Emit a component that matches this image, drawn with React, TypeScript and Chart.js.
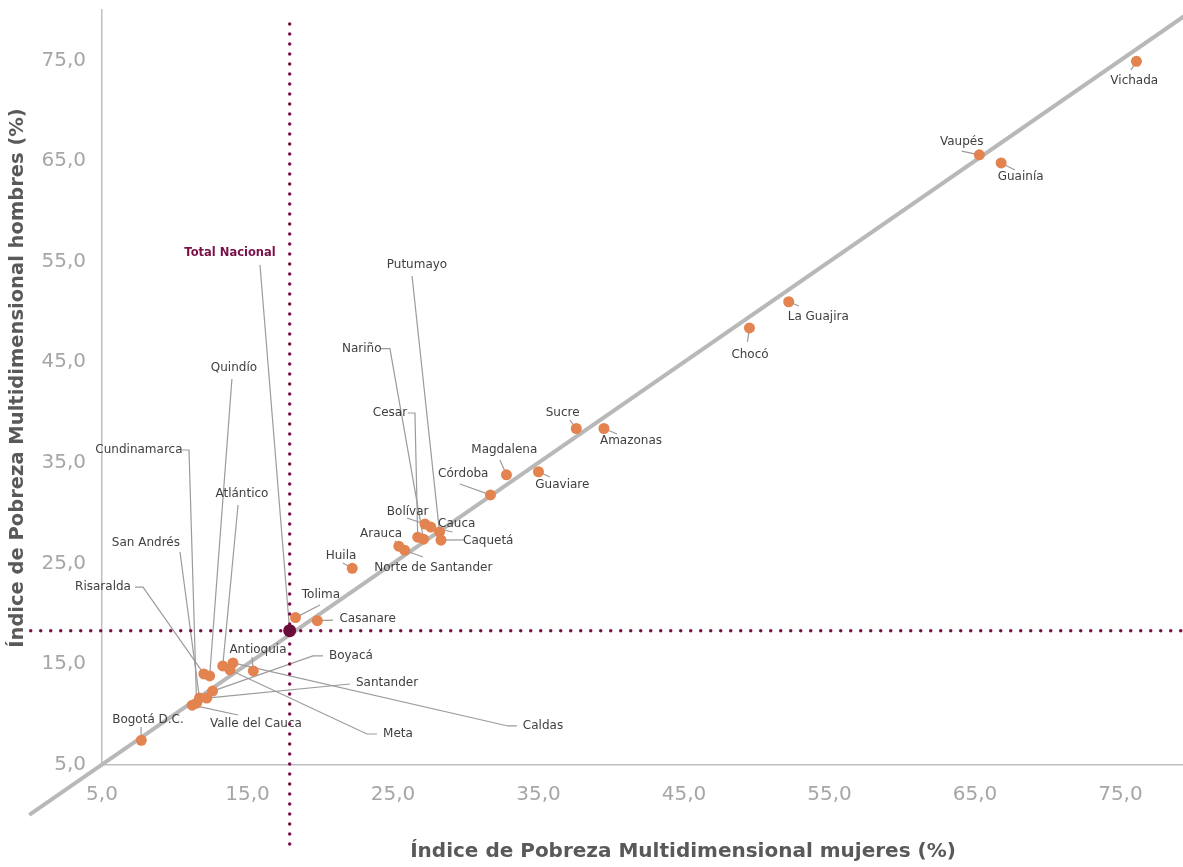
import React, { useEffect, useRef } from "react";
import { Chart, registerables } from "chart.js";

Chart.register(...registerables);

// ---------- Data ----------
const departments = [
  "Vichada", "Vaupés", "Guainía", "La Guajira", "Chocó", "Amazonas", "Sucre", "Guaviare",
  "Magdalena", "Córdoba", "Putumayo", "Caquetá", "Cauca", "Bolívar", "Nariño", "Cesar",
  "Norte de Santander", "Arauca", "Huila", "Casanare", "Tolima", "Antioquia", "Caldas", "Meta",
  "Atlántico", "Quindío", "Risaralda", "Boyacá", "Santander", "San Andrés", "Cundinamarca",
  "Valle del Cauca", "Bogotá D.C.",
];
const womenIPM = [
  76.1, 65.3, 66.8, 52.2, 49.5, 39.5, 37.6, 35.0,
  32.8, 31.7, 28.2, 28.3, 27.6, 27.2, 27.1, 26.7,
  25.8, 25.4, 22.2, 19.8, 18.3, 15.4, 14.0, 13.8,
  13.3, 12.4, 12.0, 12.6, 12.2, 11.7, 11.5,
  11.2, 7.7,
];
const menIPM = [
  74.9, 65.6, 64.8, 51.0, 48.4, 38.4, 38.4, 34.1,
  33.8, 31.8, 28.1, 27.3, 28.6, 28.9, 27.4, 27.6,
  26.3, 26.7, 24.5, 19.3, 19.6, 14.3, 15.1, 14.4,
  14.8, 13.8, 14.0, 12.3, 11.6, 11.6, 11.1,
  10.9, 7.4,
];
const nationalLabel = "Total Nacional";
const nationalWomen = 17.9;
const nationalMen = 18.3;

const xTicks = [5, 15, 25, 35, 45, 55, 65, 75];
const yTicks = [5, 15, 25, 35, 45, 55, 65, 75];
const xTitle = "Índice de Pobreza Multidimensional mujeres (%)";
const yTitle = "Índice de Pobreza Multidimensional hombres (%)";

// Label placement (in data units), one per department
const labelX = [
  75.95, 64.09, 68.14, 54.23, 49.54, 41.36, 36.66, 36.64,
  32.65, 29.83, 26.65, 31.55, 29.38, 26.01, 22.85, 24.79,
  27.77, 24.18, 21.43, 23.26, 20.05, 15.72, 35.31, 25.34,
  14.62, 14.07, 5.07, 22.11, 24.59, 8.02, 7.54,
  15.58, 8.16,
];
const labelY = [
  72.94, 66.91, 63.43, 49.51, 45.71, 37.16, 39.97, 32.78,
  36.26, 33.88, 54.65, 27.22, 28.94, 30.1, 46.33, 39.94,
  24.56, 27.91, 25.76, 19.46, 21.85, 16.38, 8.83, 8.03,
  31.89, 44.41, 22.64, 15.79, 13.1, 27.02, 36.26,
  9.03, 9.42,
];
// Leader-line vertices (data units) from label towards point
const leaders: number[][][] = [
  [[75.72, 74.04]], [[64.09, 65.98]], [[67.75, 64.1]], [[52.9, 50.58]], [[49.36, 47.0]],
  [[40.4, 37.85]], [[37.16, 39.24]], [[35.79, 33.58]],
  [[32.35, 35.27]], [[29.6, 32.88]], [[26.31, 53.56]], [[29.95, 27.32]], [[29.1, 28.11]],
  [[25.96, 29.5]], [[24.18, 46.33], [24.79, 46.33]], [[26.03, 39.94], [26.51, 39.94]],
  [[27.06, 25.63]], [[25.14, 27.22]], [[21.56, 25.03]], [[20.88, 19.36]], [[19.98, 20.86]],
  [[15.31, 15.69]], [[33.52, 8.83], [32.9, 8.83]], [[23.9, 8.03], [23.21, 8.03]],
  [[14.35, 30.8]], [[13.93, 43.32]], [[7.27, 22.64], [7.82, 22.64]], [[20.19, 15.79], [19.5, 15.79]],
  [[22.04, 13.0]], [[10.36, 26.12]], [[10.5, 36.26], [10.98, 36.26]],
  [[14.35, 9.92]], [[7.68, 8.73]],
];
const nationalLabelPos = [13.8, 55.85];
const nationalLeader = [[15.86, 54.65]];

const fmt = (v: number) => v.toFixed(1).replace(".", ",");

const DIAG_INDEX = 3;

const annotationPlugin = {
  id: "ipmAnnotations",
  afterDatasetDraw(chart: any, args: any) {
    if (args.index !== DIAG_INDEX) return;
    const { ctx, scales } = chart;
    const xs = scales.x, ys = scales.y;
    ctx.save();
    ctx.strokeStyle = "#9B9B9B";
    ctx.lineWidth = 1.2;
    const drawLeader = (verts: number[][], px: number, py: number) => {
      ctx.beginPath();
      verts.forEach((v, i) => {
        const X = xs.getPixelForValue(v[0]);
        const Y = ys.getPixelForValue(v[1]);
        if (i === 0) ctx.moveTo(X, Y); else ctx.lineTo(X, Y);
      });
      ctx.lineTo(xs.getPixelForValue(px), ys.getPixelForValue(py));
      ctx.stroke();
    };
    departments.forEach((_, i) => drawLeader(leaders[i], womenIPM[i], menIPM[i]));
    drawLeader(nationalLeader, nationalWomen, nationalMen);
    ctx.restore();
  },
  afterDatasetsDraw(chart: any) {
    const { ctx, scales } = chart;
    const xs = scales.x, ys = scales.y;
    ctx.save();
    ctx.textAlign = "center";
    ctx.textBaseline = "middle";
    ctx.fillStyle = "#404040";
    ctx.font = "12px 'DejaVu Sans'";
    departments.forEach((name, i) => {
      ctx.fillText(name, xs.getPixelForValue(labelX[i]), ys.getPixelForValue(labelY[i]));
    });
    ctx.fillStyle = "#7A1048";
    ctx.font = "bold 11.5px 'DejaVu Sans'";
    ctx.fillText(nationalLabel, xs.getPixelForValue(nationalLabelPos[0]), ys.getPixelForValue(nationalLabelPos[1]));

    // axis titles
    ctx.fillStyle = "#595959";
    ctx.font = "bold 20px 'DejaVu Sans'";
    ctx.fillText(xTitle, 683, 852);
    ctx.font = "bold 19.5px 'DejaVu Sans'";
    ctx.translate(18, 378);
    ctx.rotate(-Math.PI / 2);
    ctx.fillText(yTitle, 0, 0);
    ctx.restore();
  },
};

export default function App() {
  const canvasRef = useRef<HTMLCanvasElement | null>(null);

  useEffect(() => {
    if (!canvasRef.current) return;
    const points = womenIPM.map((w, i) => ({ x: w, y: menIPM[i] }));
    const chart = new Chart(canvasRef.current, {
      type: "scatter",
      data: {
        datasets: [
          {
            label: "Departamentos",
            data: points,
            backgroundColor: "#E3834F",
            borderColor: "#E3834F",
            borderWidth: 0,
            pointRadius: 5.5,
            order: 0,
          } as any,
          {
            label: nationalLabel,
            data: [{ x: nationalWomen, y: nationalMen }],
            backgroundColor: "#6B0D3B",
            borderColor: "#6B0D3B",
            borderWidth: 0,
            pointRadius: 6.5,
            order: 0,
          } as any,
          {
            label: "nacional-v",
            type: "line",
            data: [
              { x: nationalWomen, y: -2.9 },
              { x: nationalWomen, y: 79.2 },
            ],
            borderColor: "#7A1048",
            borderWidth: 3.5,
            borderDash: [0, 10],
            borderCapStyle: "round",
            pointRadius: 0,
            clip: false,
            order: 1,
          } as any,
          {
            label: "diagonal",
            type: "line",
            data: [
              { x: 0, y: 0 },
              { x: 80, y: 80 },
            ],
            borderColor: "#B8B8B8",
            borderWidth: 4,
            pointRadius: 0,
            clip: false,
            order: 3,
          } as any,
          {
            label: "nacional-h",
            type: "line",
            data: [
              { x: 0.1, y: nationalMen },
              { x: 80, y: nationalMen },
            ],
            borderColor: "#7A1048",
            borderWidth: 3.5,
            borderDash: [0, 10],
            borderCapStyle: "round",
            pointRadius: 0,
            clip: false,
            order: 1,
          } as any,
        ],
      },
      options: {
        animation: false,
        responsive: false,
        devicePixelRatio: 1,
        layout: { autoPadding: false, padding: { top: 10, right: 0, bottom: 0, left: 0 } },
        plugins: {
          legend: { display: false },
          tooltip: { enabled: false },
        },
        scales: {
          x: {
            type: "linear",
            min: 5,
            max: 79.3,
            afterBuildTicks: (scale: any) => {
              scale.ticks = xTicks.map((v) => ({ value: v }));
            },
            afterFit: (scale: any) => {
              scale.height = 102.5;
              scale.paddingLeft = 0;
              scale.paddingRight = 0;
              scale.paddingTop = 0;
              scale.paddingBottom = 0;
            },
            grid: { display: false },
            border: { display: true, color: "#BFBFBF", width: 1.5 },
            ticks: {
              color: "#A6A6A6",
              font: { family: "'DejaVu Sans'", size: 20 },
              padding: 10,
              maxRotation: 0,
              autoSkip: false,
              callback: (v: any) => fmt(Number(v)),
            },
          },
          y: {
            type: "linear",
            min: 5,
            max: 80,
            afterBuildTicks: (scale: any) => {
              scale.ticks = yTicks.map((v) => ({ value: v }));
            },
            afterFit: (scale: any) => {
              scale.width = 102;
              scale.paddingLeft = 0;
              scale.paddingRight = 0;
              scale.paddingTop = 0;
              scale.paddingBottom = 0;
            },
            grid: { display: false },
            border: { display: true, color: "#BFBFBF", width: 1.5 },
            ticks: {
              color: "#A6A6A6",
              font: { family: "'DejaVu Sans'", size: 20 },
              padding: 8,
              autoSkip: false,
              callback: (v: any) => fmt(Number(v)),
            },
          },
        },
      } as any,
      plugins: [annotationPlugin],
    });
    return () => chart.destroy();
  }, []);

  return (
    <div style={{ position: "absolute", left: 0, top: 0, width: 1183, height: 867, background: "#fff" }}>
      <canvas ref={canvasRef} width={1183} height={867} style={{ width: 1183, height: 867, display: "block" }} />
    </div>
  );
}
